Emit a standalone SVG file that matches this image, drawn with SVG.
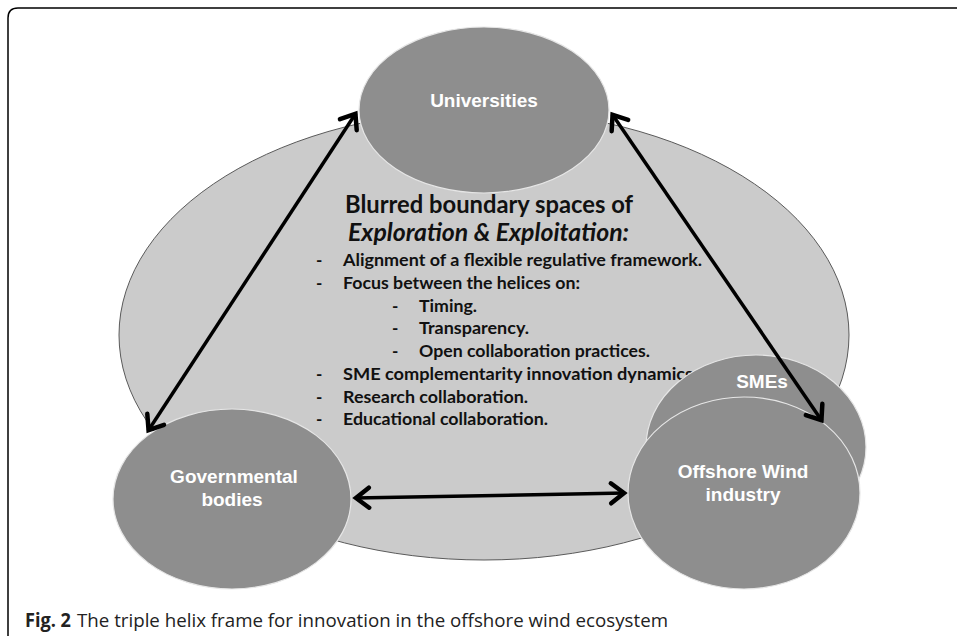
<svg xmlns="http://www.w3.org/2000/svg" width="957" height="636" viewBox="0 0 957 636">
  <style>
    .node { fill: #8e8e8e; stroke: #e6e6e6; stroke-width: 1.2; }
    .nlabel { font-family: "Liberation Sans", Arial, sans-serif; font-weight: bold; font-size: 19px; fill: #ffffff; text-anchor: middle; }
    .body { font-family: Lato, "Liberation Sans", sans-serif; font-weight: bold; font-size: 17px; fill: #111111; }
    .head { font-family: Lato, "Liberation Sans", sans-serif; font-weight: bold; font-size: 24px; fill: #111111; }
    .conn { stroke: #000000; stroke-width: 3.5; fill: none; marker-start: url(#ah); marker-end: url(#ah); }
    .cap { font-family: "Open Sans", "Liberation Sans", sans-serif; font-size: 19px; fill: #222222; }
  </style>
  <defs>
    <marker id="ah" markerUnits="userSpaceOnUse" markerWidth="30" markerHeight="30" viewBox="-20 -15 30 30" refX="1" refY="0" orient="auto-start-reverse">
      <path d="M -13,-10 L 0,0 L -13,10" fill="none" stroke="#000000" stroke-width="4.5" stroke-linejoin="miter" stroke-linecap="round"/>
    </marker>
  </defs>
  <rect x="0" y="0" width="957" height="636" fill="#ffffff"/>
  <path d="M 8,648 L 8,18 Q 8,8 18,8 L 970,8" fill="none" stroke="#000000" stroke-width="1.5"/>

  <g id="ecosystem">
    <ellipse cx="484" cy="335" rx="365" ry="225" fill="#cbcbcb" stroke="#5a5a5a" stroke-width="1"/>
  </g>

  <g id="universities">
    <ellipse class="node" cx="484" cy="110" rx="125" ry="83"/>
    <text class="nlabel" x="484" y="107">Universities</text>
  </g>

  <g id="boundary-text">
    <text class="head" x="345" y="213" textLength="288" lengthAdjust="spacingAndGlyphs">Blurred boundary spaces of</text>
    <text class="head" x="348" y="241" font-style="italic" textLength="281" lengthAdjust="spacingAndGlyphs">Exploration &amp; Exploitation:</text>
    <text class="body" x="316" y="266">-</text>
    <text class="body" x="343" y="266" textLength="359" lengthAdjust="spacingAndGlyphs">Alignment of a flexible regulative framework.</text>
    <text class="body" x="316" y="289">-</text>
    <text class="body" x="343" y="289" textLength="237" lengthAdjust="spacingAndGlyphs">Focus between the helices on:</text>
    <text class="body" x="392" y="312">-</text>
    <text class="body" x="419" y="312" textLength="58" lengthAdjust="spacingAndGlyphs">Timing.</text>
    <text class="body" x="392" y="334">-</text>
    <text class="body" x="419" y="334" textLength="110" lengthAdjust="spacingAndGlyphs">Transparency.</text>
    <text class="body" x="392" y="357">-</text>
    <text class="body" x="419" y="357" textLength="231" lengthAdjust="spacingAndGlyphs">Open collaboration practices.</text>
    <text class="body" x="316" y="380">-</text>
    <text class="body" x="343" y="380" textLength="350" lengthAdjust="spacingAndGlyphs">SME complementarity innovation dynamics</text>
    <text class="body" x="316" y="403">-</text>
    <text class="body" x="343" y="403" textLength="185" lengthAdjust="spacingAndGlyphs">Research collaboration.</text>
    <text class="body" x="316" y="425">-</text>
    <text class="body" x="343" y="425" textLength="205" lengthAdjust="spacingAndGlyphs">Educational collaboration.</text>
  </g>

  <g id="smes">
    <ellipse class="node" cx="756" cy="447" rx="110" ry="92"/>
    <text class="nlabel" x="762" y="388">SMEs</text>
  </g>

  <g id="offshore-wind">
    <ellipse class="node" cx="744" cy="493" rx="116" ry="96"/>
    <text class="nlabel" x="743" y="478">Offshore Wind</text>
    <text class="nlabel" x="743" y="501">industry</text>
  </g>

  <g id="governmental">
    <ellipse class="node" cx="232" cy="499" rx="119" ry="90"/>
    <text class="nlabel" x="234" y="483">Governmental</text>
    <text class="nlabel" x="232" y="506">bodies</text>
  </g>

  <g id="connectors">
    <line class="conn" x1="148" y1="431" x2="356" y2="113"/>
    <line class="conn" x1="612" y1="114" x2="822" y2="421"/>
    <line class="conn" x1="355" y1="498" x2="625" y2="493"/>
  </g>

  <g id="caption">
    <text class="cap" x="25" y="627" font-weight="bold" textLength="46" lengthAdjust="spacingAndGlyphs">Fig. 2</text>
    <text class="cap" x="77" y="627" textLength="591" lengthAdjust="spacingAndGlyphs">The triple helix frame for innovation in the offshore wind ecosystem</text>
  </g>
</svg>
